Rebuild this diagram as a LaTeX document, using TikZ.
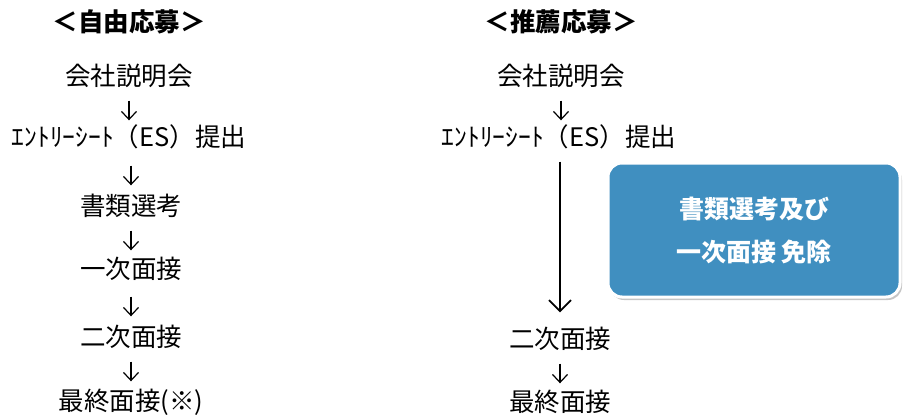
\documentclass[tikz,border=0pt]{standalone}
\usepackage{fontspec}
\newfontfamily\jp{Noto Sans CJK JP}
\usepackage{tikz}
\usetikzlibrary{arrows.meta,positioning,shadows}

\definecolor{menjo}{RGB}{64,143,192}

\tikzset{
  step_text/.style={font=\jp\fontsize{25.5}{30}\selectfont, inner sep=0pt,
    text height=20pt, text depth=3pt},
  title_text/.style={font=\jp\bfseries\fontsize{25.5}{30}\selectfont, inner sep=0pt},
  small_arrow/.style 2 args={line width=1.2pt,
    -{Straight Barb[length=8pt,width=15pt,line width=1.2pt]},
    shorten <=#1pt, shorten >=#2pt},
  long_arrow/.style={line width=1.8pt, -{Straight Barb[length=11pt,width=22pt,line width=1.8pt]},
    shorten <=12pt, shorten >=16pt},
  menjo_box/.style={rounded corners=14pt, fill=menjo, draw=white, line width=3pt,
    minimum width=292pt, minimum height=134pt, text=white, align=center,
    font=\jp\bfseries\fontsize{25}{43}\selectfont,
    drop shadow={shadow xshift=2pt, shadow yshift=-3pt, fill=black!45, opacity=0.5}}
}

\begin{document}
\begin{tikzpicture}[x=1pt, y=-1pt]
\useasboundingbox (0,0) rectangle (903,418);

% left column
\node [title_text] (left_title) at (129,22) {＜自由応募＞};
\node [step_text] (left_setsumei) at (129,77) {会社説明会};
\node [step_text] (left_es) at (129,138) {ｴﾝﾄﾘｰｼｰﾄ（ES）提出};
\node [step_text] (left_shorui) at (131,207) {書類選考};
\node [step_text] (left_ichiji) at (131,270) {一次面接};
\node [step_text] (left_niji) at (131,338) {二次面接};
\node [step_text] (left_saishu) at (131,402) {最終面接(※)};

\draw [small_arrow={12}{6}] (left_setsumei.south) -- (left_setsumei |- left_es.north);
\draw [small_arrow={16}{10}] (left_es.south -| left_shorui) -- (left_shorui.north);
\draw [small_arrow={12}{8}] (left_shorui.south) -- (left_ichiji.north);
\draw [small_arrow={15}{10}] (left_ichiji.south) -- (left_niji.north);
\draw [small_arrow={12}{9}] (left_niji.south) -- (left_saishu.north);

% right column
\node [title_text] (right_title) at (561,22) {＜推薦応募＞};
\node [step_text] (right_setsumei) at (561,77) {会社説明会};
\node [step_text] (right_es) at (559,138) {ｴﾝﾄﾘｰｼｰﾄ（ES）提出};
\node [step_text] (right_niji) at (560,340) {二次面接};
\node [step_text] (right_saishu) at (560,403) {最終面接};

\draw [small_arrow={12}{6}] (right_setsumei.south) -- (right_setsumei |- right_es.north);
\draw [long_arrow] (right_es.south -| right_niji) -- (right_niji.north);
\draw [small_arrow={12}{8}] (right_niji.south) -- (right_saishu.north);

\node [menjo_box] (menjo) at (754,230) {書類選考及び\\一次面接 免除};
\end{tikzpicture}
\end{document}
